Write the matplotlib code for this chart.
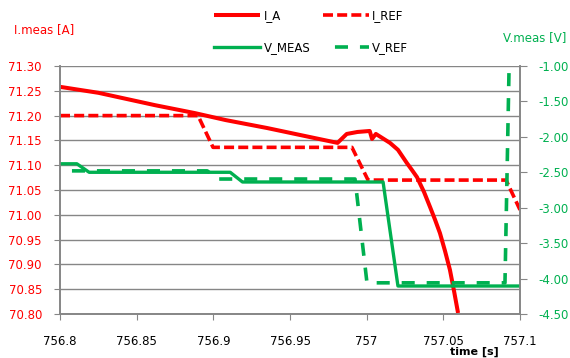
import numpy as np
import matplotlib
matplotlib.use('Agg')
import matplotlib.pyplot as plt

plt.rcParams['font.family'] = ['DejaVu Sans']
plt.rcParams['lines.scale_dashes'] = False

RED = '#ff0000'
GREEN = '#00b050'
GRID = '#868686'

# I_A (left axis)
t_ia = [756.800, 756.825, 756.862, 756.888, 756.908, 756.935, 756.981, 756.987,
        756.994, 757.002, 757.0035, 757.006, 757.0152, 757.0204, 757.0263, 757.0296,
        757.0328, 757.0374, 757.0413, 757.0446, 757.0478, 757.0511, 757.0543,
        757.0570, 757.0596]
i_a = [71.258, 71.246, 71.221, 71.205, 71.191, 71.175, 71.145, 71.163,
       71.167, 71.169, 71.153, 71.163, 71.145, 71.131, 71.104, 71.090,
       71.076, 71.046, 71.016, 70.990, 70.963, 70.927, 70.889,
       70.846, 70.802]

# I_REF (left axis)
t_iref = [756.800, 756.890, 756.8998, 756.9904, 757.0009, 757.0909, 757.100]
i_ref = [71.200, 71.200, 71.136, 71.136, 71.070, 71.070, 71.010]

# V_MEAS (right axis)
t_vm = [756.800, 756.811, 756.819, 756.911, 756.919, 757.0107, 757.0204, 757.100]
v_meas = [-2.38, -2.38, -2.50, -2.50, -2.637, -2.637, -4.105, -4.105]

# V_REF (right axis)
t_vref = [756.800, 756.896, 756.903, 756.9924, 757.0002, 757.0902, 757.0928]
v_ref = [-2.48, -2.48, -2.595, -2.595, -4.06, -4.06, -1.10]

x_ticks = [756.8, 756.85, 756.9, 756.95, 757.0, 757.05, 757.1]
x_labels = ['756.8', '756.85', '756.9', '756.95', '757', '757.05', '757.1']
i_ticks = np.round(np.arange(70.80, 71.301, 0.05), 2)
v_ticks = np.round(np.arange(-4.5, -0.99, 0.5), 2)

fig = plt.figure(figsize=(5.7, 3.58), dpi=100)
ax = fig.add_axes([60/570, 1-314/358, 460/570, 248/358])
ax2 = ax.twinx()

l_ia, = ax.plot(t_ia, i_a, color=RED, lw=2.9, label='I_A', solid_capstyle='butt')
l_iref, = ax.plot(t_iref, i_ref, color=RED, lw=2.6, label='I_REF',
                  linestyle=(0, (7.2, 3.0)), dash_capstyle='butt')
l_vm, = ax2.plot(t_vm, v_meas, color=GREEN, lw=2.4, label='V_MEAS')
l_vref, = ax2.plot(t_vref, v_ref, color=GREEN, lw=2.6, label='V_REF',
                   linestyle=(9.4, (9.4, 8.6)), dash_capstyle='butt')

ax.set_xlim(756.8, 757.1)
ax.set_ylim(70.80, 71.30)
ax2.set_ylim(-4.5, -1.0)

ax.set_xticks(x_ticks)
ax.set_xticklabels(x_labels)
ax.set_yticks(i_ticks)
ax.set_yticklabels([f'{v:.2f}' for v in i_ticks])
ax2.set_yticks(v_ticks)
ax2.set_yticklabels([f'{v:.2f}' for v in v_ticks])

ax.grid(axis='y', color=GRID, lw=1.0)
ax.set_axisbelow(True)
for a in (ax, ax2):
    for s in a.spines.values():
        s.set_color(GRID)
        s.set_linewidth(1.2)
    a.spines['top'].set_visible(False)

ax.tick_params(axis='y', colors=GRID, labelcolor=RED, labelsize=8.5, length=4, pad=9)
ax.tick_params(axis='x', colors=GRID, labelcolor='black', labelsize=8.5, length=4, pad=11)
ax2.tick_params(axis='y', colors=GRID, labelcolor=GREEN, labelsize=8.5, length=5, pad=8)

fig.text(14/570, 1-30/358, 'I.meas [A]', color=RED, fontsize=8.5, va='center', ha='left')
fig.text(566/570, 1-38/358, 'V.meas [V]', color=GREEN, fontsize=8.5, va='center', ha='right')
fig.text(474/570, 1/358, 'time [s]', color='black', fontsize=8,
         fontweight='bold', va='bottom', ha='center')

fig.legend(handles=[l_ia, l_vm, l_iref, l_vref], ncol=2, frameon=False,
           loc='upper left', bbox_to_anchor=(205/570, 1.0), fontsize=8.5,
           handlelength=3.9, handletextpad=0.3, columnspacing=1.0,
           labelspacing=1.55, borderaxespad=0.4)

fig.savefig('out.png', dpi=100)
